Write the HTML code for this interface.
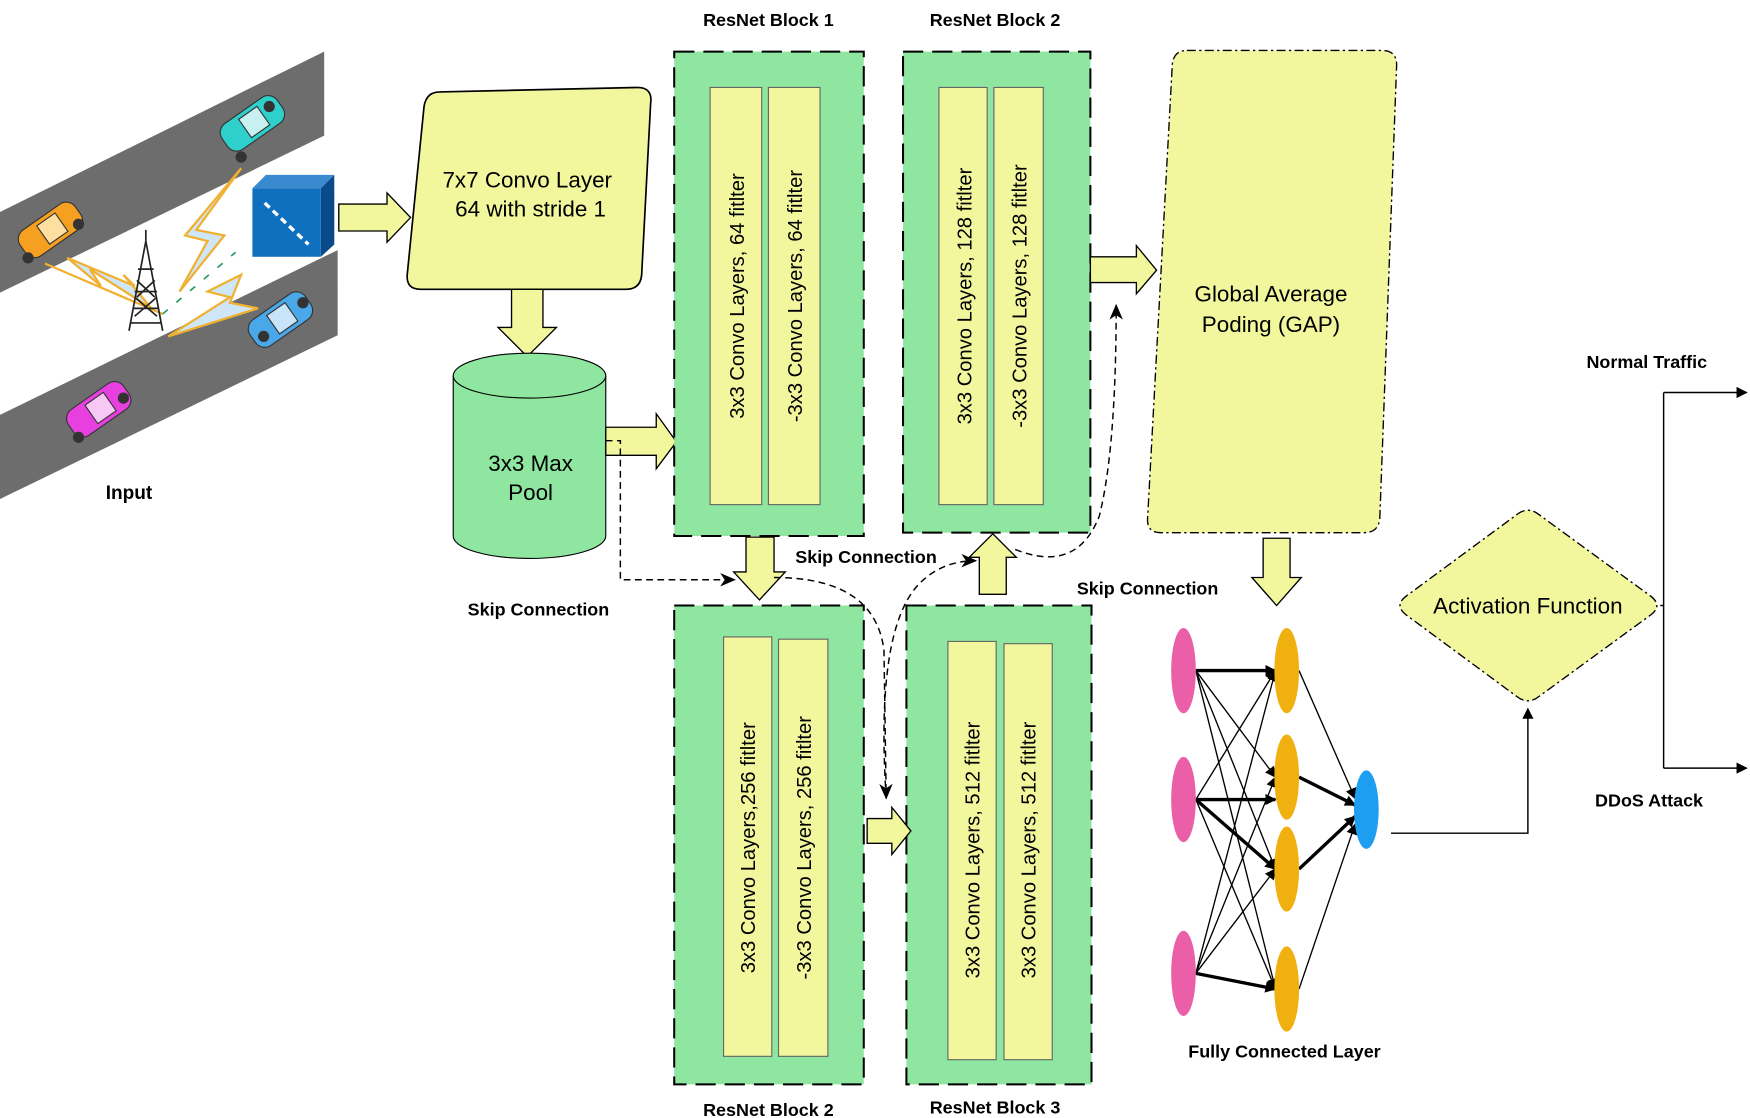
<!DOCTYPE html>
<html><head><meta charset="utf-8"><style>html,body{margin:0;padding:0;background:#fff}svg{display:block}</style></head>
<body>
<svg width="1750" height="1118" viewBox="0 0 1560 997" preserveAspectRatio="none" xmlns="http://www.w3.org/2000/svg" font-family="Liberation Sans, sans-serif">
<defs>
<marker id="ah" markerWidth="10" markerHeight="10" refX="9" refY="5" orient="auto" markerUnits="userSpaceOnUse"><path d="M0,0 L10,5 L0,10 Z" fill="#000"/></marker>
<marker id="ah2" markerWidth="14" markerHeight="12" refX="13" refY="6" orient="auto" markerUnits="userSpaceOnUse"><path d="M0,0 L14,6 L0,12 L4,6 Z" fill="#000"/></marker>
</defs>
<rect width="1560" height="997" fill="#fff"/>
<!-- roads -->
<polygon points="0,189 289,46 289,121 0,261" fill="#6d6d6d"/>
<polygon points="0,370 301,223 301,299 0,445" fill="#6d6d6d"/>
<!-- cars -->
<g stroke="#333" stroke-width="1">
<g transform="translate(225,110) rotate(-35)"><rect x="-30" y="-14" width="60" height="28" rx="10" fill="#2fd0cc"/><rect x="-8" y="-10" width="20" height="20" fill="#c8f0f0"/></g>
<g transform="translate(45,205) rotate(-35)"><rect x="-30" y="-14" width="60" height="28" rx="10" fill="#f5a020"/><rect x="-8" y="-10" width="20" height="20" fill="#fde0a0"/></g>
<g transform="translate(250,285) rotate(-35)"><rect x="-30" y="-14" width="60" height="28" rx="10" fill="#4aa8e8"/><rect x="-8" y="-10" width="20" height="20" fill="#c8e4f8"/></g>
<g transform="translate(88,365) rotate(-35)"><rect x="-30" y="-14" width="60" height="28" rx="10" fill="#e840e0"/><rect x="-8" y="-10" width="20" height="20" fill="#f8c8f4"/></g>
</g>
<circle cx="215" cy="140" r="5" fill="#333"/><circle cx="240" cy="95" r="5" fill="#333"/>
<circle cx="25" cy="230" r="5" fill="#333"/><circle cx="70" cy="200" r="5" fill="#333"/>
<circle cx="235" cy="300" r="5" fill="#333"/><circle cx="270" cy="270" r="5" fill="#333"/>
<circle cx="70" cy="390" r="5" fill="#333"/><circle cx="110" cy="355" r="5" fill="#333"/>
<!-- lightning / links -->
<g stroke="#f0b030" stroke-width="2" fill="#cfe6f8">
<polygon points="60,230 90,255 80,240 135,275 110,245 120,255"/>
<polygon points="215,150 175,205 200,210 160,260 185,215 165,210"/>
<polygon points="215,245 185,260 205,265 150,300 230,275 205,270"/>
</g>
<line x1="145" y1="280" x2="40" y2="235" stroke="#f0b030" stroke-width="2"/>
<!-- tower -->
<g stroke="#222" stroke-width="1.5" fill="none">
<path d="M130,215 L115,295 M130,215 L145,295 M120,260 L140,260 M118,275 L142,275 M123,240 L137,240 M116,288 L144,288 M130,205 L130,215"/>
<path d="M122,250 L138,265 M138,250 L122,265 M120,265 L140,282 M140,265 L120,282"/>
</g>
<path d="M145,280 L210,225" stroke="#2a9a60" stroke-width="1.5" stroke-dasharray="6,10"/>
<!-- cube -->
<polygon points="225,168 237,156 298,156 286,168" fill="#3a8ad0"/>
<polygon points="286,168 298,156 298,218 286,229" fill="#0a4a8a"/>
<rect x="225" y="168" width="61" height="61" fill="#1070c0"/>
<line x1="236" y1="181" x2="275" y2="218" stroke="#fff" stroke-width="3" stroke-dasharray="6,4"/>
<text x="115" y="445" font-size="17" font-weight="bold" text-anchor="middle">Input</text>
<!-- block arrow cube->conv -->
<polygon points="302,182 345,182 345,172 366,194 345,216 345,206 302,206" fill="#f2f79e" stroke="#000" stroke-width="1.2"/>
<!-- conv -->
<path d="M392,82 L568,78 Q582,78 580,92 L572,245 Q571,258 558,258 L375,258 Q362,258 363,245 L378,95 Q380,82 392,82 Z" fill="#f2f79e" stroke="#000" stroke-width="1.5"/>
<text x="470" y="167" font-size="20" text-anchor="middle">7x7 Convo Layer</text>
<text x="473" y="193" font-size="20" text-anchor="middle">64 with stride 1</text>
<!-- down arrow -->
<polygon points="456,258 484,258 484,292 496,292 470,318 444,292 456,292" fill="#f2f79e" stroke="#000" stroke-width="1.2"/>
<!-- cylinder -->
<path d="M404,335 L404,478 A68,20 0 0 0 540,478 L540,335" fill="#8ee6a0" stroke="#000" stroke-width="1"/>
<ellipse cx="472" cy="335" rx="68" ry="20" fill="#8ee6a0" stroke="#000" stroke-width="1"/>
<text x="473" y="420" font-size="20" text-anchor="middle">3x3  Max</text>
<text x="473" y="446" font-size="20" text-anchor="middle">Pool</text>
<!-- arrow cyl -> block1 -->
<polygon points="540,381 585,381 585,369 603,394 585,418 585,406 540,406" fill="#f2f79e" stroke="#000" stroke-width="1.2"/>
<!-- blocks -->
<g stroke="#000" stroke-width="1.8" stroke-dasharray="18,8" fill="#8ee6a0">
<rect x="601" y="46" width="169" height="432"/>
<rect x="805" y="46" width="167" height="429"/>
<rect x="601" y="540" width="169" height="427"/>
<rect x="808" y="540" width="165" height="427"/>
</g>
<g fill="#f2f79e" stroke="#666" stroke-width="1">
<rect x="633" y="78" width="46" height="372"/><rect x="685" y="78" width="46" height="372"/>
<rect x="837" y="78" width="43" height="372"/><rect x="886" y="78" width="44" height="372"/>
<rect x="645" y="568" width="43" height="374"/><rect x="694" y="570" width="44" height="372"/>
<rect x="845" y="572" width="43" height="373"/><rect x="895" y="574" width="43" height="371"/>
</g>
<g font-size="18" text-anchor="middle">
<text transform="translate(663,264) rotate(-90)">3x3 Convo Layers, 64 fitlter</text>
<text transform="translate(715,264) rotate(-90)">-3x3 Convo Layers, 64 fitlter</text>
<text transform="translate(866,264) rotate(-90)">3x3 Convo Layers, 128 fitlter</text>
<text transform="translate(915,264) rotate(-90)">-3x3 Convo Layers, 128 fitlter</text>
<text transform="translate(673,756) rotate(-90)">3x3 Convo Layers,256 fitlter</text>
<text transform="translate(723,756) rotate(-90)">-3x3 Convo Layers, 256 fitlter</text>
<text transform="translate(873,758) rotate(-90)">3x3 Convo Layers, 512 fitlter</text>
<text transform="translate(923,758) rotate(-90)">3x3 Convo Layers, 512 fitlter</text>
</g>
<g font-size="16" font-weight="bold" text-anchor="middle">
<text x="685" y="23">ResNet Block 1</text>
<text x="887" y="23">ResNet Block 2</text>
<text x="685" y="995">ResNet Block 2</text>
<text x="887" y="993">ResNet Block 3</text>
<text x="480" y="549">Skip Connection</text>
<text x="772" y="502">Skip Connection</text>
<text x="1023" y="530">Skip Connection</text>
<text x="1145" y="943">Fully Connected Layer</text>
<text x="1468" y="328">Normal Traffic</text>
<text x="1470" y="719">DDoS Attack</text>
</g>
<!-- yellow arrows between blocks -->
<polygon points="665,479 690,479 690,510 700,510 677,535 654,510 665,510" fill="#f2f79e" stroke="#000" stroke-width="1.2"/>
<polygon points="873,530 897,530 897,497 906,497 885,476 864,497 873,497" fill="#f2f79e" stroke="#000" stroke-width="1.2"/>
<polygon points="773,730 795,730 795,720 812,741 795,762 795,752 773,752" fill="#f2f79e" stroke="#000" stroke-width="1.2"/>
<polygon points="972,229 1013,229 1013,219 1031,241 1013,262 1013,252 972,252" fill="#f2f79e" stroke="#000" stroke-width="1.2"/>
<polygon points="1126,480 1150,480 1150,515 1160,515 1138,540 1116,515 1126,515" fill="#f2f79e" stroke="#000" stroke-width="1.2"/>
<!-- GAP -->
<path d="M1058,45 L1232,45 Q1245,45 1245,58 L1230,462 Q1229,475 1216,475 L1035,475 Q1022,475 1023,462 L1045,58 Q1046,45 1058,45 Z" fill="#f2f79e" stroke="#000" stroke-width="1.2" stroke-dasharray="8,3,2,3"/>
<text x="1133" y="269" font-size="20" text-anchor="middle">Global Average</text>
<text x="1133" y="296" font-size="20" text-anchor="middle">Poding (GAP)</text>
<!-- dashed skip connectors -->
<g stroke="#000" stroke-width="1.3" fill="none" stroke-dasharray="6,4">
<path d="M540,393 L553,393 L553,517 L655,517" marker-end="url(#ah2)"/>
<path d="M690,515 Q780,515 788,580 L790,712" marker-end="url(#ah2)"/>
<path d="M790,712 Q780,560 820,520 Q840,500 870,500" marker-end="url(#ah2)"/>
<path d="M905,490 Q960,512 980,460 Q995,400 995,272" marker-end="url(#ah2)"/>
</g>
<!-- FC network -->
<g stroke="#000" fill="none">
<g stroke-width="1.2">
<line x1="1066" y1="598" x2="1137" y2="693" marker-end="url(#ah)"/><line x1="1066" y1="598" x2="1137" y2="775" marker-end="url(#ah)"/><line x1="1066" y1="598" x2="1137" y2="882" marker-end="url(#ah)"/>
<line x1="1066" y1="713" x2="1137" y2="598" marker-end="url(#ah)"/><line x1="1066" y1="713" x2="1137" y2="882" marker-end="url(#ah)"/>
<line x1="1066" y1="868" x2="1137" y2="598" marker-end="url(#ah)"/><line x1="1066" y1="868" x2="1137" y2="693" marker-end="url(#ah)"/><line x1="1066" y1="868" x2="1137" y2="775" marker-end="url(#ah)"/>
<line x1="1158" y1="598" x2="1208" y2="712" marker-end="url(#ah)"/><line x1="1158" y1="882" x2="1208" y2="735" marker-end="url(#ah)"/>
</g>
<g stroke-width="3">
<line x1="1066" y1="598" x2="1137" y2="598" marker-end="url(#ah)"/>
<line x1="1066" y1="713" x2="1137" y2="713" marker-end="url(#ah)"/>
<line x1="1066" y1="713" x2="1137" y2="775" marker-end="url(#ah)"/>
<line x1="1066" y1="868" x2="1137" y2="882" marker-end="url(#ah)"/>
<line x1="1158" y1="693" x2="1208" y2="718" marker-end="url(#ah)"/>
<line x1="1158" y1="775" x2="1208" y2="728" marker-end="url(#ah)"/>
</g>
</g>
<g fill="#ea5fa8"><ellipse cx="1055" cy="598" rx="11" ry="38"/><ellipse cx="1055" cy="713" rx="11" ry="38"/><ellipse cx="1055" cy="868" rx="11" ry="38"/></g>
<g fill="#f0b010"><ellipse cx="1147" cy="598" rx="11" ry="38"/><ellipse cx="1147" cy="693" rx="11" ry="38"/><ellipse cx="1147" cy="775" rx="11" ry="38"/><ellipse cx="1147" cy="882" rx="11" ry="38"/></g>
<ellipse cx="1218" cy="722" rx="11" ry="35" fill="#1e9ef0"/>
<!-- output to activation -->
<path d="M1240,743 L1362,743 L1362,632" stroke="#000" stroke-width="1.3" fill="none" marker-end="url(#ah)"/>
<!-- diamond -->
<path d="M1352,459 Q1362,451 1372,459 L1472,532 Q1482,540 1472,548 L1372,621 Q1362,629 1352,621 L1253,548 Q1243,540 1253,532 Z" fill="#f2f79e" stroke="#000" stroke-width="1.2" stroke-dasharray="8,3,2,3"/>
<text x="1362" y="547" font-size="20" text-anchor="middle">Activation Function</text>
<!-- output lines -->
<path d="M1480,540 L1483,540 M1483,350 L1483,685" stroke="#000" stroke-width="1.3"/>
<line x1="1483" y1="350" x2="1557" y2="350" stroke="#000" stroke-width="1.3" marker-end="url(#ah)"/>
<line x1="1483" y1="685" x2="1557" y2="685" stroke="#000" stroke-width="1.3" marker-end="url(#ah)"/>
</svg>
</body></html>
